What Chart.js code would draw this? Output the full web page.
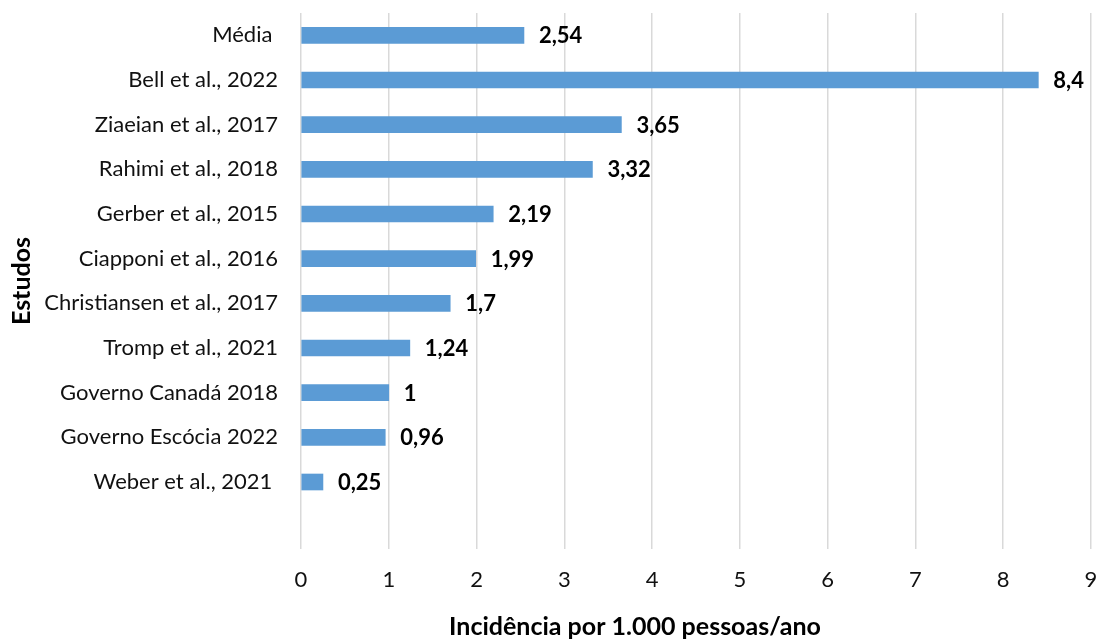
<!DOCTYPE html>
<html>
<head>
<meta charset="utf-8">
<style>
  html, body { margin: 0; padding: 0; background: #ffffff; }
  #wrap { width: 1101px; height: 640px; }
</style>
<script src="https://cdn.jsdelivr.net/npm/chart.js@4/dist/chart.umd.min.js"></script>
</head>
<body>
<div id="wrap"><canvas id="chart" width="1101" height="640"></canvas></div>
<script>
// Estudos e incidência (por 1.000 pessoas/ano)
const categories = [
  'Média ',
  'Bell et al., 2022',
  'Ziaeian et al., 2017',
  'Rahimi et al., 2018',
  'Gerber et al., 2015',
  'Ciapponi et al., 2016',
  'Christiansen et al., 2017',
  'Tromp et al., 2021',
  'Governo Canadá 2018',
  'Governo Escócia 2022',
  'Weber et al., 2021 '
];
const values = [2.54, 8.4, 3.65, 3.32, 2.19, 1.99, 1.7, 1.24, 1, 0.96, 0.25];
const xTicks = [0, 1, 2, 3, 4, 5, 6, 7, 8, 9];

const xTitle = 'Incidência por 1.000 pessoas/ano';
const yTitle = 'Estudos';

const FONT = 'Lato, "Liberation Sans", sans-serif';
const BAR = '#5b9bd5';

// one blank row is kept under the last study
const rowLabels = categories.concat(['']);
const rowValues = values.concat([null]);

const fmt = v => String(v).replace('.', ',');

const valueLabels = {
  id: 'valueLabels',
  afterDatasetsDraw(chart) {
    const ctx = chart.ctx;
    const meta = chart.getDatasetMeta(0);
    ctx.save();
    ctx.font = 'bold 22px ' + FONT;
    ctx.fillStyle = '#000000';
    ctx.textAlign = 'left';
    ctx.textBaseline = 'middle';
    meta.data.forEach((el, i) => {
      const v = rowValues[i];
      if (v === null || v === undefined) return;
      ctx.fillText(fmt(v), el.x + 15, el.y + 1);
    });
    ctx.restore();
  }
};

const bottomTitle = {
  id: 'bottomTitle',
  afterDraw(chart) {
    const ctx = chart.ctx;
    ctx.save();
    ctx.font = 'bold 25px ' + FONT;
    ctx.fillStyle = '#000000';
    ctx.textAlign = 'center';
    ctx.textBaseline = 'middle';
    ctx.fillText(xTitle, 635, 627);
    ctx.restore();
  }
};

new Chart(document.getElementById('chart'), {
  type: 'bar',
  data: {
    labels: rowLabels,
    datasets: [{
      data: rowValues,
      backgroundColor: BAR,
      borderWidth: 0,
      barThickness: 16
    }]
  },
  options: {
    indexAxis: 'y',
    responsive: false,
    animation: false,
    layout: { padding: { top: 13, right: 10, left: 0, bottom: 0 } },
    plugins: {
      legend: { display: false },
      tooltip: { enabled: false }
    },
    scales: {
      x: {
        type: 'linear',
        min: 0,
        max: 9,
        afterBuildTicks(scale) {
          scale.ticks = xTicks.map(v => ({ value: v }));
        },
        afterFit(scale) {
          scale.height = 91;
          scale.paddingLeft = 0;
          scale.paddingRight = 0;
        },
        grid: { color: '#d9d9d9', lineWidth: 1.5, drawTicks: false },
        border: { display: false },
        ticks: {
          padding: 18,
          color: '#111111',
          font: { family: FONT, size: 22 }
        }
      },
      y: {
        type: 'category',
        afterFit(scale) {
          scale.width = 301;
          scale.paddingTop = 0;
          scale.paddingBottom = 0;
        },
        grid: { display: false, drawTicks: false },
        border: { display: false },
        ticks: {
          padding: 23,
          autoSkip: false,
          color: '#111111',
          font: { family: FONT, size: 22 }
        },
        title: {
          display: true,
          text: yTitle,
          color: '#000000',
          padding: { top: 7, bottom: 0 },
          font: { family: FONT, size: 25, weight: 'bold' }
        }
      }
    }
  },
  plugins: [valueLabels, bottomTitle]
});
</script>
</body>
</html>
